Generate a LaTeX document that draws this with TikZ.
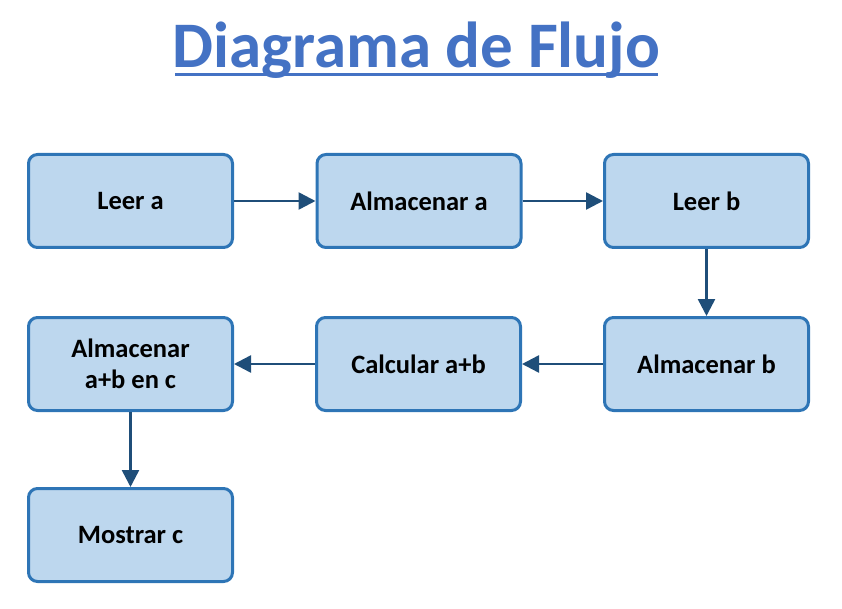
\documentclass[tikz,border=0pt]{standalone}
\usepackage{fontspec}
\setmainfont{Carlito}
\usetikzlibrary{arrows.meta, positioning}
\definecolor{boxfill}{RGB}{189,215,238}
\definecolor{boxline}{RGB}{46,117,182}
\definecolor{arrowc}{RGB}{31,78,121}
\definecolor{titlec}{RGB}{68,114,196}
\tikzset{
    paso/.style={draw=boxline, fill=boxfill, line width=3pt, rounded corners=9pt,
        minimum width=204pt, minimum height=93pt, align=center,
        font=\fontsize{26.5}{31}\selectfont\bfseries, text=black},
    flecha/.style={draw=arrowc, line width=2.5pt,
        -{Triangle[length=17pt, width=17pt]}}
}
\begin{document}
\begin{tikzpicture}[x=1pt, y=-1pt]
    \useasboundingbox (0,0) rectangle (842,609);
    % titulo
    \node[font=\fontsize{65}{70}\selectfont\bfseries, text=titlec, inner sep=0pt,
        anchor=base] (titulo) at (416.5,68) {Diagrama de Flujo};
    \draw[titlec, line width=3pt] (175,74.5) -- (658,74.5);
    % pasos
    \node[paso] (leera) at (130.5,201) {Leer a};
    \node[paso] (almaa) at (419,201) {Almacenar a};
    \node[paso] (leerb) at (706.5,201) {Leer b};
    \node[paso] (almab) at (706.5,364) {Almacenar b};
    \node[paso] (calc) at (418.5,364) {Calcular a+b};
    \node[paso] (almac) at (130.5,364) {Almacenar\\a+b en c};
    \node[paso] (most) at (130.5,535) {Mostrar c};
    % flechas
    \draw[flecha] (leera) -- (almaa);
    \draw[flecha] (almaa) -- (leerb);
    \draw[flecha] (leerb) -- (almab);
    \draw[flecha] (almab) -- (calc);
    \draw[flecha] (calc) -- (almac);
    \draw[flecha] (almac) -- (most);
\end{tikzpicture}
\end{document}
